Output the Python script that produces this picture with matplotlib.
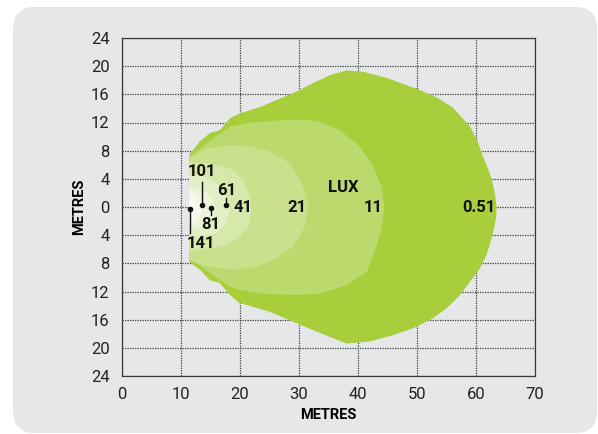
import matplotlib
matplotlib.use("Agg")
import matplotlib.pyplot as plt
from matplotlib.patches import FancyBboxPatch

PANEL = "#e6e7e8"
GRID = "#3a3a3a"

# isolux outlines (metres), drawn from outermost to innermost
LUX_LEVELS = ["0.51", "11", "21", "41", "61", "81", "101", "141"]
LUX_COLORS = ["#a9ce3b", "#bcd96d", "#c9e08c", "#d6e8aa", "#e2efc4", "#ecf4da", "#f4f8ea", "#fbfdf6"]

X_051 = [11.4, 13.2, 14.9, 16.6, 18.3, 20.0, 23.4, 26.8, 29.6, 32.4, 35.3, 38.1, 40.9, 45.0, 50.5,
         53.5, 56.1, 59.0, 60.3, 61.2, 62.1, 62.7, 63.2, 63.5, 63.4, 62.8, 61.8, 60.6, 59.0, 57.2,
         55.0, 52.5, 49.4, 45.5, 42.0, 38.1, 33.6, 29.0, 25.1, 21.1, 20.0, 18.3, 16.6, 14.9, 13.2, 11.4]
Y_051 = [7.4, 9.3, 10.5, 10.9, 12.6, 13.3, 14.2, 15.4, 16.4, 17.6, 18.75, 19.4, 19.2, 18.3, 16.6,
         15.5, 14.1, 11.4, 9.3, 7.1, 5.3, 3.8, 1.9, 0.0, -1.6, -4.0, -6.8, -8.8, -10.6, -12.6,
         -14.4, -15.9, -17.2, -18.3, -19.1, -19.4, -17.9, -16.3, -14.9, -13.9, -13.7, -12.5, -10.8,
         -10.4, -8.9, -7.8]

X_11 = [11.4, 15.5, 18.3, 21.1, 26.8, 31.3, 33.6, 36.9, 40.3, 42.6, 44.0, 44.5, 44.0, 43.0, 41.5,
        38.1, 33.6, 29.6, 23.9, 20.0, 18.3, 16.6, 13.5, 11.4]
Y_11 = [7.1, 9.8, 11.4, 11.9, 12.3, 12.4, 12.1, 10.9, 8.6, 5.7, 2.9, 0.0, -3.0, -5.9, -9.2,
        -11.1, -12.3, -12.5, -12.3, -11.8, -11.3, -10.4, -8.5, -7.4]

X_21 = [11.4, 14.4, 18.3, 21.7, 25.1, 28.5, 30.7, 31.6, 31.0, 29.0, 26.2, 22.8, 19.4, 15.5, 12.7, 11.4]
Y_21 = [7.0, 8.3, 8.8, 8.6, 7.9, 6.2, 2.9, 0.0, -2.8, -5.6, -7.3, -8.5, -8.9, -8.6, -8.0, -7.6]

X_41 = [11.4, 14.9, 18.3, 20.6, 21.7, 22.0, 21.4, 19.4, 16.6, 12.7, 11.4]
Y_41 = [6.3, 6.2, 5.5, 3.8, 1.5, -0.4, -2.8, -4.7, -5.6, -6.1, -6.2]

X_61 = [11.4, 14.4, 16.6, 18.0, 18.3, 17.7, 16.0, 13.8, 11.4]
Y_61 = [4.5, 4.3, 2.9, 1.0, -0.4, -2.3, -3.7, -4.2, -4.2]

X_81 = [11.4, 13.8, 15.5, 15.8, 15.2, 13.5, 11.4]
Y_81 = [2.9, 2.4, 1.0, -0.4, -1.8, -2.8, -3.0]

X_101 = [11.4, 13.2, 13.8, 12.9, 11.4]
Y_101 = [2.2, 1.2, -0.4, -1.8, -2.5]

X_141 = [11.4, 12.3, 12.6, 12.2, 11.4]
Y_141 = [1.2, 0.8, -0.2, -1.0, -1.4]

OUTLINES = [(X_051, Y_051), (X_11, Y_11), (X_21, Y_21), (X_41, Y_41),
            (X_61, Y_61), (X_81, Y_81), (X_101, Y_101), (X_141, Y_141)]

# plain labels: (text, x, y)
LABELS = [("21", 29.6, 0.0), ("LUX", 37.5, 2.7), ("11", 42.5, 0.0), ("0.51", 60.5, 0.0), ("41", 20.5, 0.0)]
# pointer labels: (text, label x, label y, dot x, dot y, line end y)
POINTERS = [("101", 13.6, 5.0, 13.6, 0.3, 3.6), ("61", 17.7, 2.4, 17.7, 0.3, 1.3),
            ("81", 15.1, -2.5, 15.1, -0.2, -1.1), ("141", 13.4, -5.2, 11.6, -0.3, -3.7)]

XTICKS = [0, 10, 20, 30, 40, 50, 60, 70]
YTICKS = [-24, -20, -16, -12, -8, -4, 0, 4, 8, 12, 16, 20, 24]

plt.rcParams["font.family"] = ["Roboto", "DejaVu Sans"]
fig = plt.figure(figsize=(5.98, 4.34), dpi=100, facecolor="white")
panel = FancyBboxPatch((0.13, 0.01), 5.84, 4.26, boxstyle="round,pad=0,rounding_size=0.22",
                       transform=fig.dpi_scale_trans, facecolor=PANEL, edgecolor="none", zorder=-10)
fig.add_artist(panel)
ax = fig.add_axes([122 / 598, 1 - 376 / 434, 413 / 598, 338 / 434])
ax.set_facecolor("none")
ax.set_zorder(1)

for (xs, ys), c in zip(OUTLINES, LUX_COLORS):
    ax.fill(xs, ys, color=c, lw=0, zorder=2)

ax.set_xlim(0, 70); ax.set_ylim(-24, 24)
ax.set_xticks(XTICKS); ax.set_yticks(YTICKS)
ax.set_xticklabels([str(v) for v in XTICKS], fontsize=12, color="#222222")
ax.set_yticklabels([str(abs(v)) for v in YTICKS], fontsize=12, color="#222222")
ax.tick_params(length=0, pad=9)
ax.tick_params(axis="x", pad=8)
ax.set_axisbelow(True)
ax.grid(True, color=GRID, lw=0.9, ls=(0, (1, 1)))
for s in ax.spines.values():
    s.set_color(GRID); s.set_linewidth(0.9); s.set_linestyle((0, (1, 1)))

for t, x, y in LABELS:
    ax.text(x, y, t, ha="center", va="center", fontsize=12, fontweight="bold", color="#111111", zorder=5)
for t, lx, ly, dx, dy, ey in POINTERS:
    ax.text(lx, ly, t, ha="center", va="center", fontsize=12, fontweight="bold", color="#111111", zorder=5)
    ax.plot([dx, dx], [dy, ey], color="#111111", lw=1, zorder=5)
    ax.plot(dx, dy, "o", color="#111111", ms=3, zorder=5)

ax.set_xlabel("METRES", fontsize=10.5, fontweight="bold", labelpad=4)
ax.set_ylabel("METRES", fontsize=10.5, fontweight="bold", labelpad=3)

fig.savefig("out.png", dpi=100, facecolor="white")
